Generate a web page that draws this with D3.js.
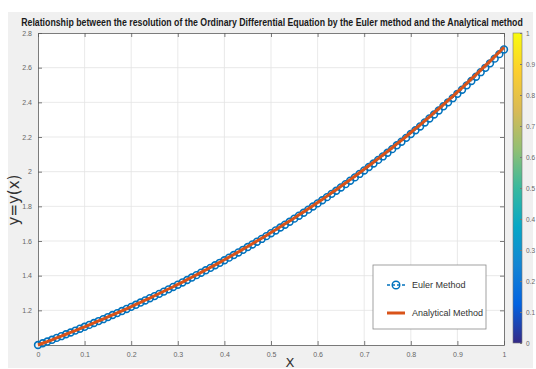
<!DOCTYPE html>
<html>
<head>
<meta charset="utf-8">
<script src="https://cdn.jsdelivr.net/npm/d3@7"></script>
<style>
  body { margin: 0; background: #fff; }
  svg { display: block; font-family: "Liberation Sans Narrow", "Liberation Sans", Arial, sans-serif; }
</style>
</head>
<body>
<svg id="chart" width="536" height="369"></svg>
<script>
// x values (step h = 0.01)
const xValues = [
  0.00, 0.01, 0.02, 0.03, 0.04, 0.05, 0.06, 0.07, 0.08, 0.09,
  0.10, 0.11, 0.12, 0.13, 0.14, 0.15, 0.16, 0.17, 0.18, 0.19,
  0.20, 0.21, 0.22, 0.23, 0.24, 0.25, 0.26, 0.27, 0.28, 0.29,
  0.30, 0.31, 0.32, 0.33, 0.34, 0.35, 0.36, 0.37, 0.38, 0.39,
  0.40, 0.41, 0.42, 0.43, 0.44, 0.45, 0.46, 0.47, 0.48, 0.49,
  0.50, 0.51, 0.52, 0.53, 0.54, 0.55, 0.56, 0.57, 0.58, 0.59,
  0.60, 0.61, 0.62, 0.63, 0.64, 0.65, 0.66, 0.67, 0.68, 0.69,
  0.70, 0.71, 0.72, 0.73, 0.74, 0.75, 0.76, 0.77, 0.78, 0.79,
  0.80, 0.81, 0.82, 0.83, 0.84, 0.85, 0.86, 0.87, 0.88, 0.89,
  0.90, 0.91, 0.92, 0.93, 0.94, 0.95, 0.96, 0.97, 0.98, 0.99,
  1.00
];

// Euler method
const eulerValues = [
  1.000, 1.010, 1.020, 1.030, 1.041, 1.051, 1.062, 1.072, 1.083, 1.094,
  1.105, 1.116, 1.127, 1.138, 1.149, 1.161, 1.173, 1.184, 1.196, 1.208,
  1.220, 1.232, 1.245, 1.257, 1.270, 1.282, 1.295, 1.308, 1.321, 1.335,
  1.348, 1.361, 1.375, 1.389, 1.403, 1.417, 1.431, 1.445, 1.460, 1.474,
  1.489, 1.504, 1.519, 1.534, 1.549, 1.565, 1.580, 1.596, 1.612, 1.628,
  1.645, 1.661, 1.678, 1.694, 1.711, 1.729, 1.746, 1.763, 1.781, 1.799,
  1.817, 1.835, 1.853, 1.872, 1.890, 1.909, 1.928, 1.948, 1.967, 1.987,
  2.007, 2.027, 2.047, 2.068, 2.088, 2.109, 2.130, 2.152, 2.173, 2.195,
  2.217, 2.239, 2.261, 2.284, 2.307, 2.330, 2.353, 2.377, 2.400, 2.424,
  2.449, 2.473, 2.498, 2.523, 2.548, 2.574, 2.599, 2.625, 2.652, 2.678,
  2.705
];

// Analytical method
const analyticalValues = [
  1.000, 1.010, 1.020, 1.030, 1.041, 1.051, 1.062, 1.073, 1.083, 1.094,
  1.105, 1.116, 1.127, 1.139, 1.150, 1.162, 1.174, 1.185, 1.197, 1.209,
  1.221, 1.234, 1.246, 1.259, 1.271, 1.284, 1.297, 1.310, 1.323, 1.336,
  1.350, 1.363, 1.377, 1.391, 1.405, 1.419, 1.433, 1.448, 1.462, 1.477,
  1.492, 1.507, 1.522, 1.537, 1.553, 1.568, 1.584, 1.600, 1.616, 1.632,
  1.649, 1.665, 1.682, 1.699, 1.716, 1.733, 1.751, 1.768, 1.786, 1.804,
  1.822, 1.840, 1.859, 1.878, 1.896, 1.916, 1.935, 1.954, 1.974, 1.994,
  2.014, 2.034, 2.054, 2.075, 2.096, 2.117, 2.138, 2.160, 2.181, 2.203,
  2.226, 2.248, 2.270, 2.293, 2.316, 2.340, 2.363, 2.387, 2.411, 2.435,
  2.460, 2.484, 2.509, 2.535, 2.560, 2.586, 2.612, 2.638, 2.664, 2.691,
  2.718
];

const xTicks = [0, 0.1, 0.2, 0.3, 0.4, 0.5, 0.6, 0.7, 0.8, 0.9, 1];
const yTicks = [1.2, 1.4, 1.6, 1.8, 2, 2.2, 2.4, 2.6, 2.8];
const cbarTicks = [0, 0.1, 0.2, 0.3, 0.4, 0.5, 0.6, 0.7, 0.8, 0.9, 1];
const parulaStops = ['#352a87', '#0363e1', '#1485d4', '#06a7c6', '#38b99e', '#92bf73', '#d9ba56', '#fcce2e', '#f9fb0e'];
const legendLabels = ['Euler Method', 'Analytical Method'];

const blue = '#0072bd';
const orange = '#d95319';

const svg = d3.select('#chart');

// figure background
svg.append('rect')
  .attr('x', 8).attr('y', 12)
  .attr('width', 525).attr('height', 356)
  .attr('fill', '#f0f0f0');

const plot = { left: 38, right: 504, top: 33, bottom: 345 };

const x = d3.scaleLinear().domain([0, 1]).range([plot.left, plot.right]);
const y = d3.scaleLinear().domain([1, 2.8]).range([plot.bottom, plot.top]);

// plot area
svg.append('rect')
  .attr('x', plot.left).attr('y', plot.top)
  .attr('width', plot.right - plot.left).attr('height', plot.bottom - plot.top)
  .attr('fill', '#fff');

// grid
const grid = svg.append('g').attr('stroke', '#e3e3e3').attr('stroke-width', 0.8);
grid.selectAll('.gx').data(xTicks.slice(1, -1)).join('line')
  .attr('x1', d => x(d)).attr('x2', d => x(d))
  .attr('y1', plot.top).attr('y2', plot.bottom);
grid.selectAll('.gy').data(yTicks.slice(0, -1)).join('line')
  .attr('y1', d => y(d)).attr('y2', d => y(d))
  .attr('x1', plot.left).attr('x2', plot.right);

// axes (MATLAB style box, inward ticks)
const tickLen = 4;
const axisColor = '#5a5a5a';
const xAxisG = svg.append('g')
  .attr('transform', `translate(0,${plot.bottom})`)
  .call(d3.axisBottom(x).tickValues(xTicks).tickSize(-tickLen).tickPadding(7)
    .tickFormat(d => d3.format('')(d)).tickSizeOuter(0));
const xTopG = svg.append('g')
  .attr('transform', `translate(0,${plot.top})`)
  .call(d3.axisTop(x).tickValues(xTicks).tickSize(-tickLen).tickFormat('').tickSizeOuter(0));
const yAxisG = svg.append('g')
  .attr('transform', `translate(${plot.left},0)`)
  .call(d3.axisLeft(y).tickValues(yTicks).tickSize(-tickLen).tickPadding(6)
    .tickFormat(d => d3.format('')(d)).tickSizeOuter(0));
const yRightG = svg.append('g')
  .attr('transform', `translate(${plot.right},0)`)
  .call(d3.axisRight(y).tickValues(yTicks).tickSize(-tickLen).tickFormat('').tickSizeOuter(0));

[xAxisG, xTopG, yAxisG, yRightG].forEach(g => {
  g.select('.domain').attr('stroke', axisColor).attr('stroke-width', 0.8);
  g.selectAll('.tick line').attr('stroke', axisColor).attr('stroke-width', 0.8);
  g.selectAll('.tick text')
    .attr('fill', '#666')
    .style('font-size', '7px')
    .style('font-family', '"Liberation Sans Narrow", "Liberation Sans", sans-serif');
});

// Euler circles
const eulerPts = xValues.map((d, i) => [d, eulerValues[i]]);
svg.append('path')
  .datum(eulerPts)
  .attr('fill', 'none')
  .attr('stroke', blue)
  .attr('stroke-width', 1)
  .attr('stroke-dasharray', '3,2')
  .attr('d', d3.line().x(d => x(d[0])).y(d => y(d[1])));

svg.append('g').selectAll('circle')
  .data(eulerPts)
  .join('circle')
  .attr('cx', d => x(d[0]))
  .attr('cy', d => y(d[1]))
  .attr('r', 3.4)
  .attr('fill', 'none')
  .attr('stroke', blue)
  .attr('stroke-width', 1.6);

// Analytical line
svg.append('path')
  .datum(xValues.map((d, i) => [d, analyticalValues[i]]))
  .attr('fill', 'none')
  .attr('stroke', orange)
  .attr('stroke-width', 3)
  .attr('d', d3.line().x(d => x(d[0])).y(d => y(d[1])));

// title: condensed bold, squeezed horizontally to fit the span
const titleWidth = 502;
const titleX = 272;
const titleG = svg.append('g');
const title = titleG.append('text')
  .attr('x', 0).attr('y', 0)
  .attr('text-anchor', 'middle')
  .style('font-size', '11.5px')
  .style('font-weight', 'bold')
  .attr('fill', '#1a1a1a')
  .text('Relationship between the resolution of the Ordinary Differential Equation by the Euler method and the Analytical method');
const natural = title.node().getComputedTextLength();
const sx = Math.min(1, titleWidth / natural);
titleG.attr('transform', `translate(${titleX},26) scale(${sx},1)`);

// axis labels
svg.append('text')
  .attr('transform', 'translate(19,200) rotate(-90)')
  .attr('text-anchor', 'middle')
  .style('font-family', '"DejaVu Sans", sans-serif')
  .style('font-size', '15px')
  .attr('fill', '#333')
  .text('y=y(x)');

svg.append('text')
  .attr('x', 290).attr('y', 367)
  .attr('text-anchor', 'middle')
  .style('font-family', '"DejaVu Sans", sans-serif')
  .style('font-size', '13px')
  .attr('fill', '#333')
  .text('X');

// colorbar
const cb = { x: 513, w: 9, top: 33, bottom: 343 };
const cScale = d3.scaleLinear().domain([0, 1]).range([cb.bottom, cb.top]);
const defs = svg.append('defs');
const grad = defs.append('linearGradient')
  .attr('id', 'parula')
  .attr('x1', 0).attr('y1', 1).attr('x2', 0).attr('y2', 0);
grad.selectAll('stop').data(parulaStops).join('stop')
  .attr('offset', (d, i) => i / (parulaStops.length - 1))
  .attr('stop-color', d => d);
svg.append('rect')
  .attr('x', cb.x).attr('y', cb.top)
  .attr('width', cb.w).attr('height', cb.bottom - cb.top)
  .attr('fill', 'url(#parula)')
  .attr('stroke', '#777').attr('stroke-width', 0.6);
const cbAxis = svg.append('g')
  .attr('transform', `translate(${cb.x + cb.w},0)`)
  .call(d3.axisRight(cScale).tickValues(cbarTicks).tickSize(-2).tickPadding(4)
    .tickFormat(d => d3.format('')(d)));
cbAxis.select('.domain').remove();
cbAxis.selectAll('.tick line').attr('stroke', '#777');
cbAxis.selectAll('.tick text')
  .attr('fill', '#666')
  .style('font-size', '6.5px')
  .style('font-family', '"Liberation Sans Narrow", "Liberation Sans", sans-serif');

// legend
const lg = svg.append('g').attr('transform', 'translate(373,265)');
lg.append('rect')
  .attr('width', 113).attr('height', 64)
  .attr('fill', '#fff')
  .attr('stroke', '#8a8a8a').attr('stroke-width', 0.8);
lg.append('line')
  .attr('x1', 14).attr('x2', 32).attr('y1', 20).attr('y2', 20)
  .attr('stroke', blue).attr('stroke-width', 1.4).attr('stroke-dasharray', '3,2');
lg.append('circle')
  .attr('cx', 23).attr('cy', 20).attr('r', 3.8)
  .attr('fill', 'none').attr('stroke', blue).attr('stroke-width', 1.4);
lg.append('line')
  .attr('x1', 14).attr('x2', 32).attr('y1', 48).attr('y2', 48)
  .attr('stroke', orange).attr('stroke-width', 3);
lg.selectAll('.lt').data(legendLabels).join('text')
  .attr('x', 39)
  .attr('y', (d, i) => 23 + i * 28)
  .style('font-size', '9px')
  .attr('fill', '#333')
  .text(d => d);
</script>
</body>
</html>
